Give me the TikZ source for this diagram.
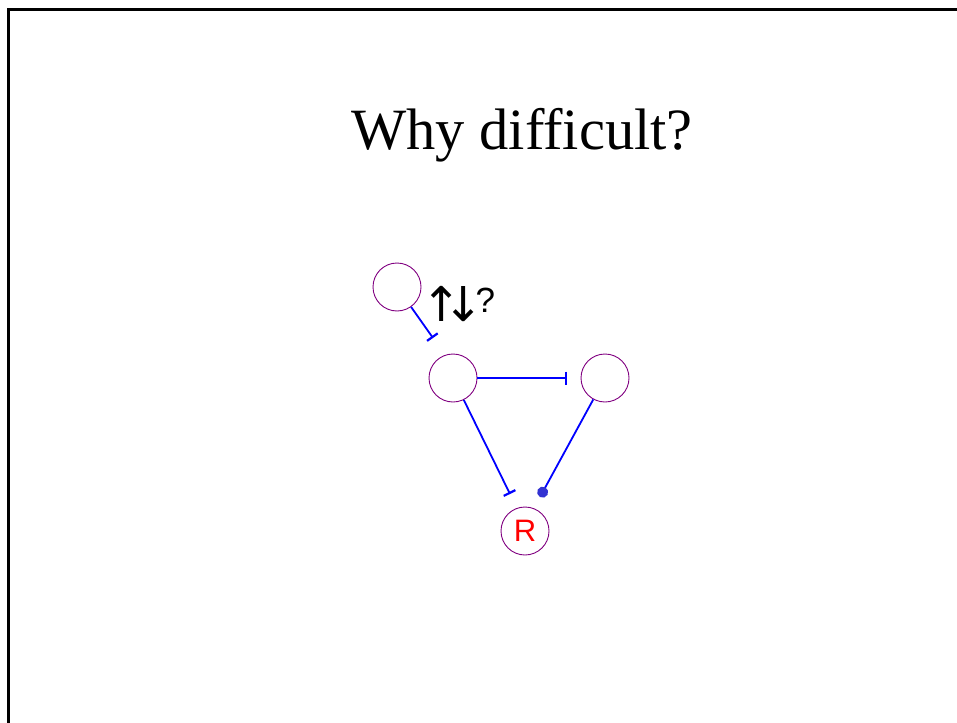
\documentclass[tikz,border=0pt]{standalone}
\usepackage{fontspec}
\usepackage{graphicx}
\setmainfont{Liberation Serif}
\newfontfamily\arialf{Liberation Sans}
\newfontfamily\djv{DejaVu Sans}
\usetikzlibrary{arrows.meta}
\definecolor{circ}{RGB}{128,0,128}
\definecolor{edgeblue}{RGB}{0,0,255}
\definecolor{dotblue}{RGB}{50,50,210}
\begin{document}
\begin{tikzpicture}[x=1pt,y=-1pt,
  gene/.style={circle,draw=circ,line width=0.9pt,minimum size=48pt,inner sep=0pt,font=\arialf\fontsize{31}{31}\selectfont,text=red},
  inhib/.style={draw=edgeblue,line width=1.8pt,-{Bar[width=13pt,line width=2.2pt]}},
  activ/.style={draw=edgeblue,line width=1.8pt,-{Circle[length=11pt,width=11pt,fill=dotblue,color=dotblue]}}]
\useasboundingbox (0,0) rectangle (957,722);
\draw[line width=3pt,line cap=rect] (8.5,722) -- (8.5,9.5) -- (957,9.5);
\node[font=\fontsize{58.5}{58.5}\selectfont] (title) at (522,135) {Why difficult?};
\node[gene] (a) at (397,287) {};
\node[gene] (b) at (453,378) {};
\node[gene] (c) at (605,378) {};
\node[gene] (r) at (525,531) {R};
\coordinate (ab) at (433,338);
\coordinate (bc) at (567,378);
\coordinate (br) at (510,494);
\coordinate (cr) at (540,497);
\draw[inhib] (a) -- (ab);
\draw[inhib] (b) -- (bc);
\draw[inhib] (b) -- (br);
\draw[activ] (c) -- (cr);
\node[anchor=base west,inner sep=0pt] (q) at (421,321) {\djv\fontsize{48}{48}\selectfont ↑\kern-18pt↓\kern-8pt\raisebox{8.5pt}{\arialf\fontsize{35}{35}\selectfont ?}};
\end{tikzpicture}
\end{document}
